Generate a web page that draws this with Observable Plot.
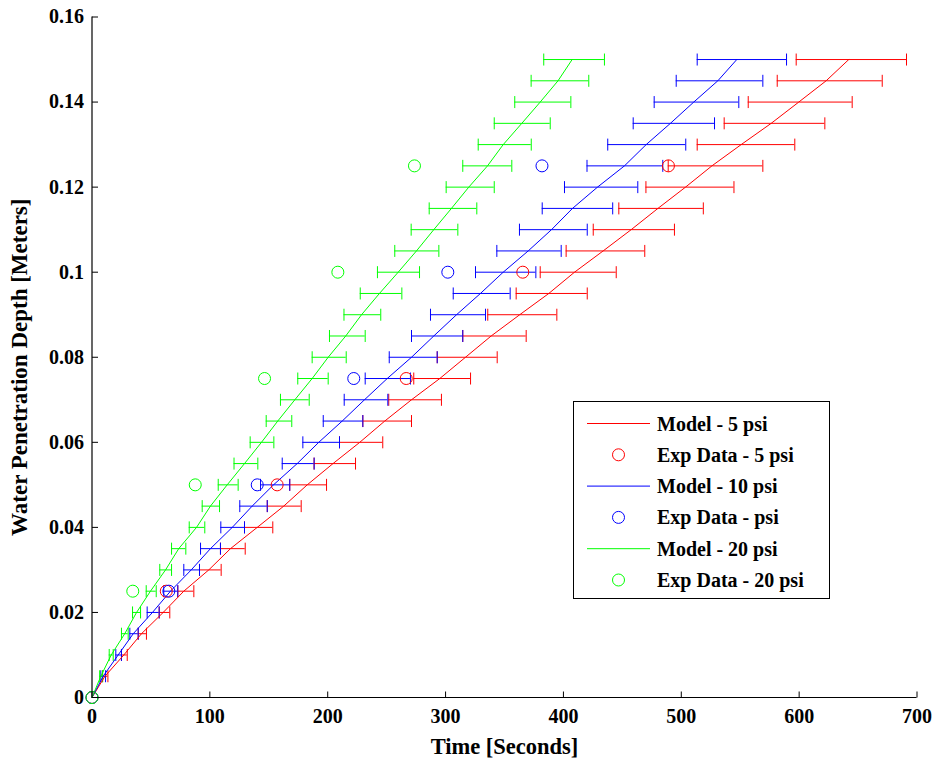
<!DOCTYPE html>
<html><head><meta charset="utf-8">
<script src="https://cdn.jsdelivr.net/npm/d3@7"></script>
<script src="https://cdn.jsdelivr.net/npm/@observablehq/plot@0.6"></script>
<style>
body{margin:0;background:#fff;}
#wrap{position:relative;width:938px;height:759px;}
#legend{position:absolute;left:573px;top:401px;}
</style></head><body><div id="wrap"></div>
<script>
// ---- data ----
const depth = [0,0.005,0.01,0.015,0.02,0.025,0.03,0.035,0.04,0.045,0.05,0.055,0.06,0.065,0.07,0.075,0.08,0.085,0.09,0.095,0.1,0.105,0.11,0.115,0.12,0.125,0.13,0.135,0.14,0.145,0.15];

const modelRed   = [0,11,27,42,60.4,77.9,99.1,117.5,140.2,162.7,182.6,204.5,227.2,248.4,271.1,295.1,316.9,338.7,362.9,387.6,409.4,433.7,457.5,480.2,503.6,526,550.8,576.3,599.7,622.9,642.1];
const modelBlue  = [0,9.5,22.2,35,51.3,66.6,84.2,100.5,119,135.9,154,174.1,192.4,212.3,231.2,250.5,271.1,290,309.3,329.6,348.9,370.1,389.9,407.7,428.9,451.8,470.2,490.8,510.6,531,547.1];
const modelGreen = [0,7.5,16.3,27.8,37.8,49.6,62.4,73.6,88.7,100.5,114.7,129.4,143.8,157.6,172.1,186.8,200.4,215.3,228.7,243.9,259.8,275.3,290,305,319.7,335.6,348.9,364.7,380.3,395.4,407.4];

// error bar extents at depths 0.005 ... 0.15
const redLo   = [9,25,39.2,57,72.8,91.2,109,129.4,148.7,167.8,188.4,210,229.8,251.8,273,292.9,314.6,335.8,359.9,380.3,402.3,425.3,447,470,488.9,513.5,536.4,556.8,581.4,597.5];
const redHi   = [13.5,29.9,46.2,66,86.4,109.6,130,153.4,177.5,199,223.6,246.7,271.1,296.5,321.2,343.8,368.4,394.4,420.2,444.8,469,494.2,518.7,544.7,569.2,596.3,621.8,645,670.5,691.1];
const blueLo  = [7.5,20.2,32.1,46.8,60.9,77.9,92.1,109.3,125.4,143,161.4,178.9,196.2,214,231.8,252.2,271.1,287.2,306.5,325.4,343.5,362.7,382,400.9,420,437.6,459.2,477,495.7,513.5];
const blueHi  = [11.5,25,39.2,57,72.8,91.2,109,129.4,148.7,167.8,188.5,210,229.8,251,270.2,292.9,314.6,333.9,354.8,376.6,398.1,420.2,441.8,463.1,484.3,503.8,528.2,548.8,569.2,589.3];
const greenLo = [6.5,14.6,25,34.4,46,57.5,67.5,82.5,93.5,107.1,120.5,134.2,147.8,159.9,174.6,186.8,201.5,213.8,227.6,242.2,256.9,270.8,286.1,300.5,314.6,327.7,341.3,358.7,372.6,383.3];
const greenHi = [9,18,30.7,41.2,54.5,67.5,79.6,95.7,108.2,124,140.7,154.3,169.5,184.3,200.4,215.7,231.8,245,262.9,277.9,294.3,310.4,326.5,341.3,356.2,372.7,388.8,406.3,421.5,434.8];

const expDepth = [0,0.025,0.05,0.075,0.1,0.125];
const expRed   = [0,63,157.1,266.6,365.5,489.1];
const expBlue  = [0,65.2,140.2,222.1,301.9,381.8];
const expGreen = [0,34.6,87.6,146.4,208.6,273.6];

const xTicks = [0,100,200,300,400,500,600,700];
const xTickLabels = ["0","100","200","300","400","500","600","700"];
const yTicks = [0,0.02,0.04,0.06,0.08,0.1,0.12,0.14,0.16];
const yTickLabels = ["0","0.02","0.04","0.06","0.08","0.1","0.12","0.14","0.16"];

const legendLabels = ["Model - 5 psi","Exp Data - 5 psi","Model - 10 psi","Exp Data - psi","Model - 20 psi","Exp Data - 20 psi"];
const seriesColors = ["#ff0000","#0000ff","#00ff00"];

// ---- build tables ----
const series = [
  {color: seriesColors[0], model: modelRed, lo: redLo, hi: redHi, exp: expRed},
  {color: seriesColors[1], model: modelBlue, lo: blueLo, hi: blueHi, exp: expBlue},
  {color: seriesColors[2], model: modelGreen, lo: greenLo, hi: greenHi, exp: expGreen}
];
const modelRows = [], errRows = [], expRows = [];
series.forEach((s, k) => {
  depth.forEach((d, i) => {
    modelRows.push({k, color: s.color, t: s.model[i], d});
    if (i > 0) errRows.push({k, color: s.color, lo: s.lo[i-1], hi: s.hi[i-1], d});
  });
  expDepth.forEach((d, i) => expRows.push({k, color: s.color, t: s.exp[i], d}));
});

const capSym = {draw(ctx, size){ const r = Math.sqrt(size/Math.PI); ctx.moveTo(0,-r); ctx.lineTo(0,r); }};
const upSym = {draw(ctx, size){ const r = Math.sqrt(size/Math.PI); ctx.moveTo(0,0); ctx.lineTo(0,-r); }};
const rightSym = {draw(ctx, size){ const r = Math.sqrt(size/Math.PI); ctx.moveTo(0,0); ctx.lineTo(r,0); }};

const font = "'Liberation Serif','Times New Roman',serif";

const chart = Plot.plot({
  width: 938, height: 759,
  marginLeft: 91.5, marginRight: 21.5, marginTop: 16.5, marginBottom: 62,
  style: {fontFamily: font, fontSize: "20px", fontWeight: "bold", color: "#000", background: "#fff"},
  x: {domain: [0,700]},
  y: {domain: [0,0.16]},
  color: {type: "identity"},
  marks: [
    Plot.axisX({ticks: xTicks, tickFormat: d => xTickLabels[xTicks.indexOf(d)], tickSize: 0, tickPadding: 11, label: null}),
    Plot.axisY({ticks: yTicks, tickFormat: d => yTickLabels[yTicks.indexOf(d)], tickSize: 0, tickPadding: 8, label: null}),
    Plot.dot(xTicks, {x: d => d, y: 0, symbol: upSym, r: 6, stroke: "#000", fill: "none", strokeWidth: 1}),
    Plot.dot(yTicks, {x: 0, y: d => d, symbol: rightSym, r: 6, stroke: "#000", fill: "none", strokeWidth: 1}),
    Plot.text(["Time [Seconds]"], {frameAnchor: "bottom", dy: 49, text: d => d, textAnchor: "middle", lineAnchor: "middle", fontSize: 22.5}),
    Plot.text(["Water Penetration Depth [Meters]"], {frameAnchor: "left", dx: -72, dy: 10, rotate: -90, text: d => d, textAnchor: "middle", lineAnchor: "middle", fontSize: 23}),
    Plot.ruleY(errRows, {y: "d", x1: "lo", x2: "hi", stroke: "color", strokeWidth: 1}),
    Plot.dot(errRows, {x: "lo", y: "d", symbol: capSym, r: 6, stroke: "color", fill: "none", strokeWidth: 1}),
    Plot.dot(errRows, {x: "hi", y: "d", symbol: capSym, r: 6, stroke: "color", fill: "none", strokeWidth: 1}),
    Plot.line(modelRows, {x: "t", y: "d", z: "k", stroke: "color", strokeWidth: 1}),
    Plot.dot(expRows, {x: "t", y: "d", r: 6, stroke: "color", fill: "none", strokeWidth: 1}),
    Plot.ruleX([0], {stroke: "#000", strokeWidth: 1.2}),
    Plot.ruleY([0], {stroke: "#000", strokeWidth: 1.2})
  ]
});
document.getElementById("wrap").appendChild(chart);

// ---- legend ----
const W = 257, H = 198;
const lg = d3.select("#wrap").append("svg").attr("id","legend").attr("width", W).attr("height", H)
  .style("font-family", font).style("font-weight","bold").style("font-size","20px");
lg.append("rect").attr("x",0.5).attr("y",0.5).attr("width",W-1).attr("height",H-1).attr("fill","#fff").attr("stroke","#000");
legendLabels.forEach((lab, i) => {
  const cy = 22.5 + i * 31.3;
  const c = seriesColors[Math.floor(i/2)];
  if (i % 2 === 0) lg.append("line").attr("x1",14).attr("x2",77).attr("y1",cy).attr("y2",cy).attr("stroke",c);
  else lg.append("circle").attr("cx",45.5).attr("cy",cy).attr("r",6).attr("fill","none").attr("stroke",c);
  lg.append("text").attr("x",84).attr("y",cy).attr("dy","0.35em").attr("fill","#000").text(lab);
});
</script></body></html>
